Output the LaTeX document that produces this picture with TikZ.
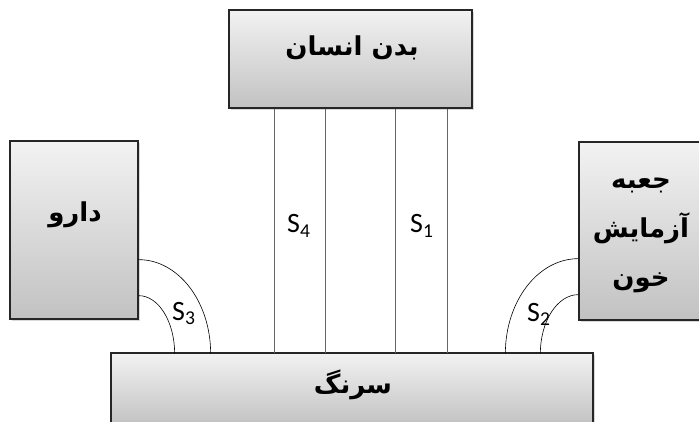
\documentclass[tikz,border=0pt]{standalone}
\usepackage{fontspec}
\setmainfont{Carlito}
\newfontfamily\farsi[Script=Arabic]{DejaVu Sans}
\TeXXeTstate=1
\usetikzlibrary{shadows}

\tikzset{
  block/.style={draw=black!85, line width=1.3pt, inner sep=0pt,
    top color=gray!10, bottom color=gray!48,
    drop shadow={shadow xshift=2pt, shadow yshift=-2pt, opacity=0.3}},
  fa/.style={font=\farsi\bfseries\fontsize{26}{49}\selectfont, align=center, inner sep=0pt},
  slabel/.style={font=\fontsize{28}{30}\selectfont, inner sep=0pt, anchor=base west},
  tube/.style={draw=black!60, line width=0.9pt},
  hose/.style={draw=black, line width=0.6pt}
}

\begin{document}
\begin{tikzpicture}[x=1pt,y=1pt]
  \useasboundingbox (0,0) rectangle (699,421);

  % the four units
  \node[block, minimum width=243pt, minimum height=98pt] (body) at (350.5,362) {};
  \node[block, minimum width=128pt, minimum height=178pt] (drug) at (74,191) {};
  \node[block, minimum width=128pt, minimum height=178pt] (test) at (643,190) {};
  \node[block, minimum width=482pt, minimum height=72pt] (syringe) at (352,32) {};

  \node[fa, anchor=base] (bodyname) at (352,365) {\beginR بدن انسان\endR};
  \node[fa, anchor=base] (drugname) at (75,199) {\beginR دارو\endR};
  \node[fa] (testname) at (641,186) {\beginR جعبه\endR\\\beginR آزمایش\endR\\\beginR خون\endR};
  \node[fa, anchor=base] (syringename) at (353,28) {\beginR سرنگ\endR};

  % straight tubes from the body down to the syringe
  \foreach \x [count=\i] in {274,325,395,447}{
    \coordinate (t\i) at (\x,68);
    \draw[tube] (t\i) -- (t\i |- body.south);
  }

  % bent hoses on both sides
  \draw[hose] ([yshift=60pt]drug.south east) arc[start angle=90, end angle=0, x radius=72pt, y radius=94pt];
  \draw[hose] ([yshift=24pt]drug.south east) arc[start angle=90, end angle=0, x radius=36pt, y radius=58pt];
  \draw[hose] ([yshift=62pt]test.south west) arc[start angle=90, end angle=180, x radius=73pt, y radius=95pt];
  \draw[hose] ([yshift=26pt]test.south west) arc[start angle=90, end angle=180, x radius=38pt, y radius=59pt];

  \node[slabel] (s4) at (287,188) {S\textsubscript{4}};
  \node[slabel] (s1) at (410,188) {S\textsubscript{1}};
  \node[slabel] (s3) at (172,101) {S\textsubscript{3}};
  \node[slabel] (s2) at (527,100) {S\textsubscript{2}};
\end{tikzpicture}
\end{document}
